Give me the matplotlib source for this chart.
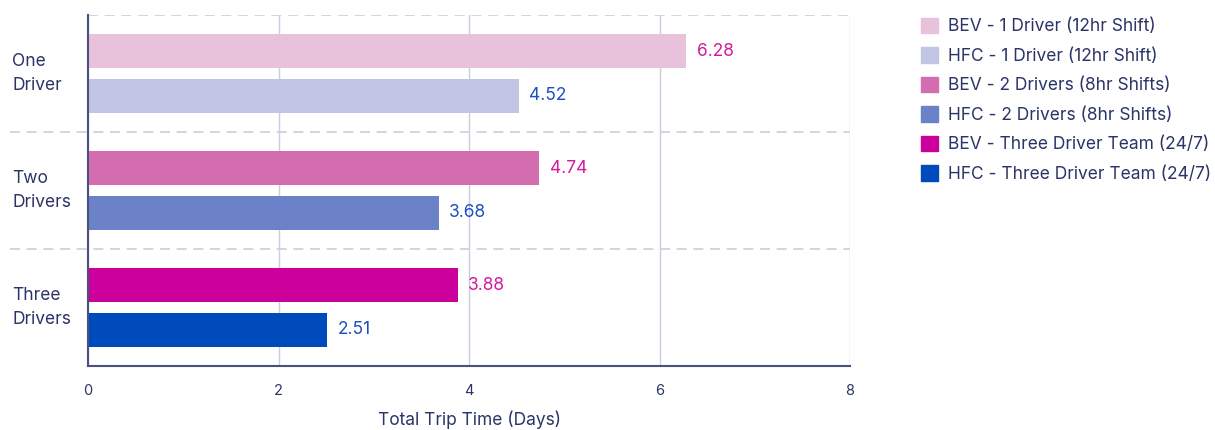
import matplotlib.pyplot as plt
from matplotlib.transforms import blended_transform_factory
from matplotlib.patches import Patch

plt.rcParams['font.family'] = ['Inter', 'DejaVu Sans']

groups = ["One\nDriver", "Two\nDrivers", "Three\nDrivers"]
bev_vals = [6.28, 4.74, 3.88]
hfc_vals = [4.52, 3.68, 2.51]
bev_names = ["BEV - 1 Driver (12hr Shift)", "BEV - 2 Drivers (8hr Shifts)", "BEV - Three Driver Team (24/7)"]
hfc_names = ["HFC - 1 Driver (12hr Shift)", "HFC - 2 Drivers (8hr Shifts)", "HFC - Three Driver Team (24/7)"]
bev_colors = ["#e8c1da", "#d46db0", "#cc009b"]
hfc_colors = ["#bfc5e3", "#6b82c9", "#004bbb"]
xticks = [0, 2, 4, 6, 8]

TEXT = "#2b3467"
GRID = "#c9cde0"
BEV_LBL = "#d4199b"
HFC_LBL = "#1d4fc0"

fig = plt.figure(figsize=(12.15, 4.30), dpi=100)
ax = fig.add_axes([88/1215, 1-366/430, (850-88)/1215, 351/430])

y = list(range(len(groups)))
off, h = 0.19, 0.29
for i in y:
    ax.barh(i - off, bev_vals[i], height=h, color=bev_colors[i], zorder=3)
    ax.barh(i + off, hfc_vals[i], height=h, color=hfc_colors[i], zorder=3)
    ax.text(bev_vals[i] + 0.11, i - off, f"{bev_vals[i]:.2f}", va="center", ha="left",
            color=BEV_LBL, fontsize=12.5)
    ax.text(hfc_vals[i] + 0.11, i + off, f"{hfc_vals[i]:.2f}", va="center", ha="left",
            color=HFC_LBL, fontsize=12.5)

ax.set_xlim(0, 8)
ax.set_ylim(len(groups) - 0.5, -0.5)
ax.set_xticks(xticks)
ax.set_xticklabels([str(t) for t in xticks], color=TEXT, fontsize=10.5)
ax.tick_params(axis="x", length=0, pad=13)
ax.set_yticks([])
ax.grid(axis="x", color=GRID, lw=1, zorder=0)
ax.set_axisbelow(True)

for s in ["top", "right"]:
    ax.spines[s].set_visible(False)
for s in ["left", "bottom"]:
    ax.spines[s].set_color("#4a5080")
    ax.spines[s].set_linewidth(1.5)
    ax.spines[s].set_zorder(4)

# dashed separators between groups
ax.axhline(-0.5, color=GRID, lw=1.2, ls=(0, (6, 4)), zorder=1)
trans = blended_transform_factory(fig.transFigure, ax.transData)
for k in range(1, len(groups)):
    ax.plot([10/1215, 850/1215], [k - 0.5, k - 0.5], transform=trans, color=GRID,
            lw=1.2, ls=(0, (6, 4)), clip_on=False, zorder=1)

for i, g in enumerate(groups):
    ax.text(12/1215, i, g, transform=trans, ha="left", va="center", color=TEXT,
            fontsize=12.5, linespacing=1.5)

ax.set_xlabel("Total Trip Time (Days)", color=TEXT, fontsize=12.5, labelpad=9)

handles = []
for b, hh, bc, hc in zip(bev_names, hfc_names, bev_colors, hfc_colors):
    handles.append(Patch(color=bc, label=b))
    handles.append(Patch(color=hc, label=hh))
leg = fig.legend(handles=handles, loc="upper left", bbox_to_anchor=(905/1215, 1-2/430),
                 frameon=False, fontsize=12.5, handlelength=1.0, handleheight=1.0,
                 handletextpad=0.6, labelspacing=0.68)
for t in leg.get_texts():
    t.set_color(TEXT)

fig.savefig("out.png", dpi=100)
